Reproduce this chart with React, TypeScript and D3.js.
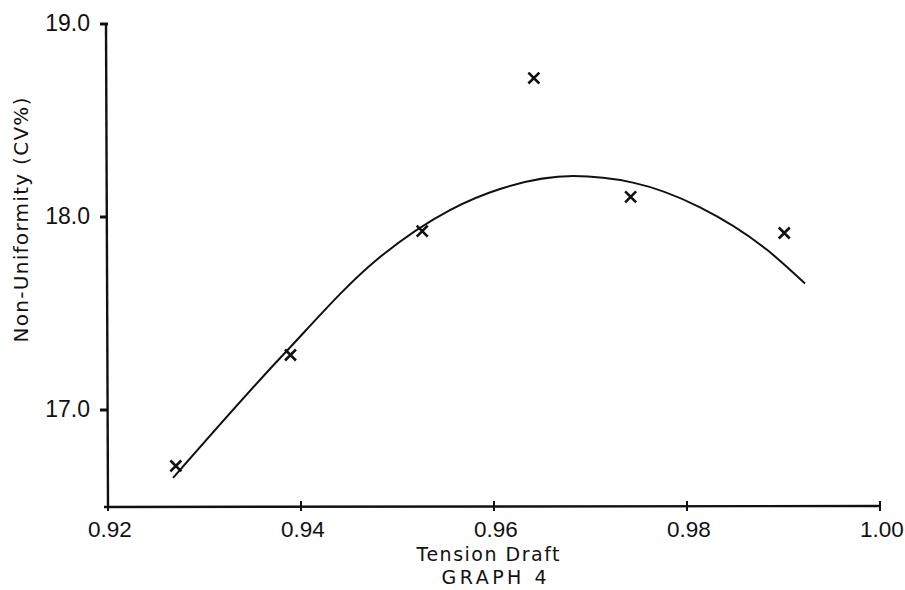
import { useEffect, useRef } from 'react'
import * as d3 from 'd3'

// measured crosses
const draftObs = [0.92703, 0.93891, 0.95256, 0.96413, 0.97416, 0.99008]
const cvObs = [16.71, 17.285, 17.927, 18.72, 18.104, 17.917]

// fitted curve
const draftFit = [0.92674, 0.93813, 0.94788, 0.95544, 0.96062, 0.96819, 0.9744, 0.98135, 0.98829, 0.99223]
const cvFit = [16.648, 17.285, 17.78, 18.036, 18.145, 18.212, 18.178, 18.05, 17.83, 17.655]

const xTicks = [0.92, 0.94, 0.96, 0.98, 1.0]
const yTicks = [17.0, 18.0, 19.0]

const FONT = '"Liberation Sans", Arial, sans-serif'
const TITLE_FONT = '"DejaVu Sans", Verdana, sans-serif'
const INK = '#111'

export default function App() {
  const svgRef = useRef<SVGSVGElement>(null)

  useEffect(() => {
    if (!svgRef.current) return
    const width = 905
    const height = 590
    const svg = d3.select(svgRef.current)
    svg.selectAll('*').remove()

    const x = d3.scaleLinear().domain([0.92, 1.0]).range([108, 880])
    const y = d3.scaleLinear().domain([17.0, 19.0]).range([410, 24])
    const yBottom = 507

    svg.append('rect').attr('width', width).attr('height', height).attr('fill', '#fff')

    // axes
    const g = svg.append('g')
    g.append('line').attr('x1', x(0.92) - 2).attr('x2', x(0.92)).attr('y1', y(19.0)).attr('y2', yBottom)
      .attr('stroke', INK).attr('stroke-width', 2.4)
    g.append('line').attr('x1', x(0.92) - 4).attr('x2', x(1.0)).attr('y1', yBottom).attr('y2', yBottom - 1)
      .attr('stroke', INK).attr('stroke-width', 2.4)

    g.selectAll('.xt').data(xTicks).join('line')
      .attr('x1', d => x(d)).attr('x2', d => x(d)).attr('y1', yBottom - 6).attr('y2', yBottom + 4)
      .attr('stroke', INK).attr('stroke-width', 2)
    g.selectAll('.xl').data(xTicks).join('text')
      .attr('x', d => x(d) + 2).attr('y', yBottom + 30).attr('text-anchor', 'middle')
      .attr('font-family', FONT).attr('font-size', 22.5).attr('fill', INK)
      .text(d => d3.format('.2f')(d))

    g.selectAll('.yt').data(yTicks).join('line')
      .attr('x1', x(0.92) - 8).attr('x2', x(0.92)).attr('y1', d => y(d)).attr('y2', d => y(d))
      .attr('stroke', INK).attr('stroke-width', 3)
    g.selectAll('.yl').data(yTicks).join('text')
      .attr('x', 90).attr('y', d => y(d) + 7).attr('text-anchor', 'end')
      .attr('font-family', FONT).attr('font-size', 23).attr('fill', INK)
      .text(d => d3.format('.1f')(d))

    // labels
    svg.append('text').attr('transform', 'translate(28,220) rotate(-90)')
      .attr('text-anchor', 'middle').attr('font-family', TITLE_FONT).attr('font-size', 20).attr('fill', INK)
      .attr('textLength', 245).attr('lengthAdjust', 'spacing')
      .text('Non-Uniformity (CV%)')
    svg.append('text').attr('x', 488).attr('y', 561).attr('text-anchor', 'middle')
      .attr('font-family', TITLE_FONT).attr('font-size', 19).attr('fill', INK)
      .attr('textLength', 143).attr('lengthAdjust', 'spacing').text('Tension Draft')
    svg.append('text').attr('x', 494).attr('y', 584).attr('text-anchor', 'middle')
      .attr('font-family', TITLE_FONT).attr('font-size', 19).attr('fill', INK)
      .attr('textLength', 105).attr('lengthAdjust', 'spacing').text('GRAPH 4')

    // fitted curve
    const fit = draftFit.map((d, i) => [d, cvFit[i]] as [number, number])
    const line = d3.line<[number, number]>().x(d => x(d[0])).y(d => y(d[1])).curve(d3.curveMonotoneX)
    svg.append('path').datum(fit).attr('d', line)
      .attr('fill', 'none').attr('stroke', INK).attr('stroke-width', 2)

    // crosses
    const obs = draftObs.map((d, i) => [d, cvObs[i]] as [number, number])
    const cross = d3.symbol().type(d3.symbolX).size(80)
    svg.selectAll('.pt').data(obs).join('path')
      .attr('transform', d => `translate(${x(d[0])},${y(d[1])})`)
      .attr('d', cross).attr('fill', 'none').attr('stroke', INK).attr('stroke-width', 2.6)
  }, [])

  return <svg ref={svgRef} width={905} height={590} style={{ display: 'block', position: 'absolute', left: 0, top: 0 }} />
}
